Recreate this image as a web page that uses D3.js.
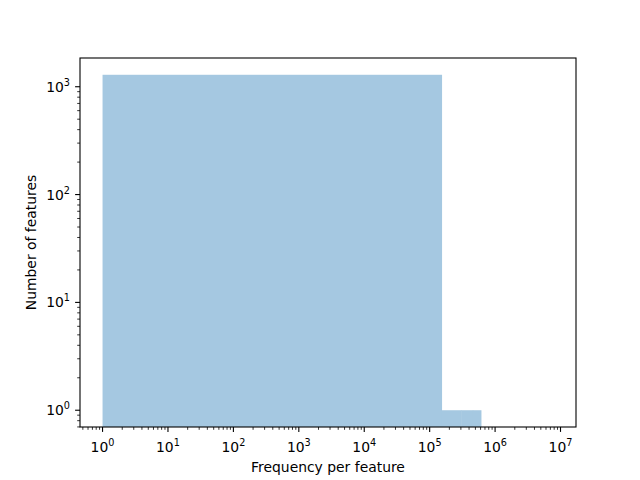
<!DOCTYPE html>
<html><head><meta charset="utf-8">
<script src="https://cdn.jsdelivr.net/npm/d3@7"></script>
<style>body{margin:0;background:#fff}svg{display:block}text{font-family:"DejaVu Sans",sans-serif;fill:#000}</style>
</head><body>
<script>
// Histogram data (linear bins, log-log display)
const binStart = 1;
const binWidth = 152000;
const counts = [1291, 1, 1, 1];
const rangeMax = 7.8e6;          // upper edge of the histogram range
const xTicks = [1, 10, 100, 1e3, 1e4, 1e5, 1e6, 1e7];
const yTicks = [1, 10, 100, 1e3];
const xLabel = "Frequency per feature";
const yLabel = "Number of features";

const W = 640, H = 480;
const m = {left: 80, right: 64, top: 58, bottom: 53};
const pw = W - m.left - m.right, ph = H - m.top - m.bottom;

const svg = d3.select("body").append("svg").attr("width", W).attr("height", H);
const g = svg.append("g").attr("transform", `translate(${m.left},${m.top})`);

function pad(lo, hi) {
  const a = Math.log10(lo), b = Math.log10(hi), d = (b - a) * 0.05;
  return [Math.pow(10, a - d), Math.pow(10, b + d)];
}
const bins = counts.map((c, i) => ({x0: binStart + i * binWidth, x1: binStart + (i + 1) * binWidth, c}));
const x = d3.scaleLog().domain(pad(binStart, rangeMax)).range([0, pw]);
const y = d3.scaleLog().domain(pad(1, d3.max(counts))).range([ph, 0]);

g.append("clipPath").attr("id", "clip").append("rect").attr("width", pw).attr("height", ph);
g.append("g").attr("clip-path", "url(#clip)").selectAll("rect").data(bins.filter(b => b.c > 0)).join("rect")
  .attr("x", d => x(d.x0)).attr("width", d => x(d.x1) - x(d.x0) + 0.5)
  .attr("y", d => y(d.c)).attr("height", d => ph + 5 - y(d.c))
  .attr("fill", "rgb(165,200,225)");

function minorTicks(scale) {
  const [a, b] = scale.domain();
  const out = [];
  for (let e = Math.floor(Math.log10(a)); e <= Math.ceil(Math.log10(b)); e++)
    for (let k = 2; k <= 9; k++) { const v = k * Math.pow(10, e); if (v >= a && v <= b) out.push(v); }
  return out;
}
const sup = t => Math.round(Math.log10(t));

// x axis
const xa = g.append("g").attr("transform", `translate(0,${ph})`);
xa.selectAll(".mi").data(minorTicks(x)).join("line").attr("x1", d => x(d)).attr("x2", d => x(d))
  .attr("y1", 0).attr("y2", 2.8).attr("stroke", "#000").attr("stroke-width", 0.8);
xa.selectAll(".ma").data(xTicks).join("line").attr("x1", d => x(d)).attr("x2", d => x(d))
  .attr("y1", 0).attr("y2", 4.9).attr("stroke", "#000").attr("stroke-width", 1.1);
const xt = xa.selectAll(".tl").data(xTicks).join("text").attr("x", d => x(d)).attr("y", 25)
  .attr("text-anchor", "middle").style("font-size", "13.9px");
xt.append("tspan").text("10");
xt.append("tspan").attr("dy", -6).style("font-size", "9.7px").text(d => sup(d));

// y axis
const ya = g.append("g");
ya.selectAll(".mi").data(minorTicks(y)).join("line").attr("y1", d => y(d)).attr("y2", d => y(d))
  .attr("x1", 0).attr("x2", -2.8).attr("stroke", "#000").attr("stroke-width", 0.8);
ya.selectAll(".ma").data(yTicks).join("line").attr("y1", d => y(d)).attr("y2", d => y(d))
  .attr("x1", 0).attr("x2", -4.9).attr("stroke", "#000").attr("stroke-width", 1.1);
const yt = ya.selectAll(".tl").data(yTicks).join("text").attr("x", -10).attr("y", d => y(d) + 5)
  .attr("text-anchor", "end").style("font-size", "13.9px");
yt.append("tspan").text("10");
yt.append("tspan").attr("dy", -6).style("font-size", "9.7px").text(d => sup(d));

// frame
g.append("rect").attr("width", pw).attr("height", ph).attr("fill", "none").attr("stroke", "#000").attr("stroke-width", 1.1);

// labels
svg.append("text").attr("x", m.left + pw / 2).attr("y", 472).attr("text-anchor", "middle")
  .style("font-size", "13.9px").text(xLabel);
svg.append("text").attr("transform", `translate(36,${m.top + ph / 2}) rotate(-90)`).attr("text-anchor", "middle")
  .style("font-size", "13.9px").text(yLabel);
</script>
</body></html>
